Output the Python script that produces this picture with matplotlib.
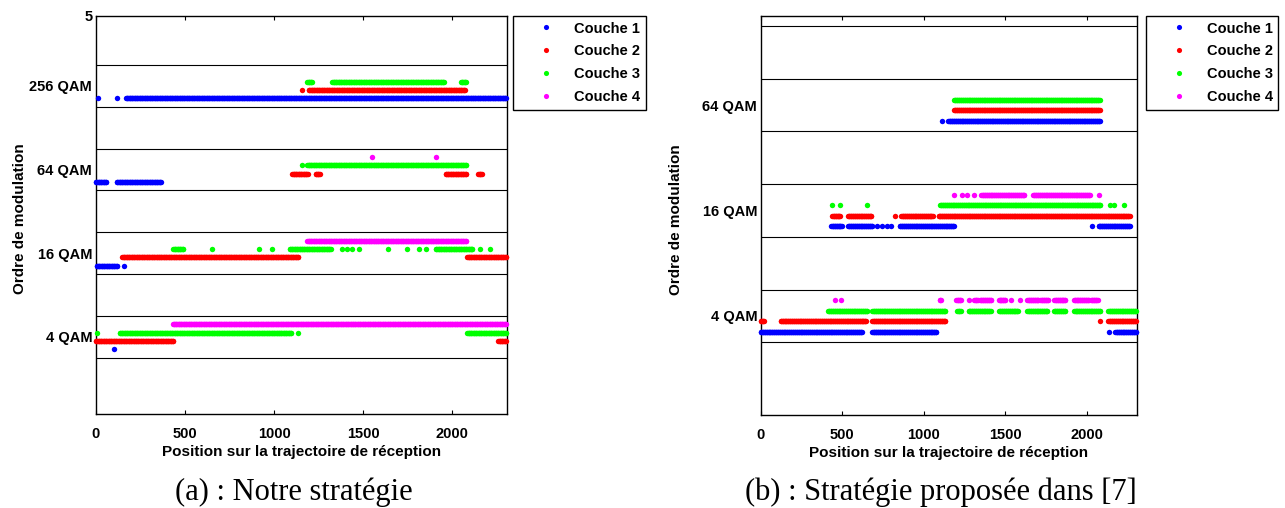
import numpy as np
import matplotlib
matplotlib.use("Agg")
import matplotlib.pyplot as plt

# ---------------- data ----------------
modulation_levels = [1, 2, 3, 4]
modulation_labels = ["4 QAM", "16 QAM", "64 QAM", "256 QAM"]
layer_names = ["Couche 1", "Couche 2", "Couche 3", "Couche 4"]
x_ticks = [0, 500, 1000, 1500, 2000]
position_max = 2305
sample_step = 4

# runs of positions: (start, end, modulation level)
a_couche1 = [(11, 11, 4), (121, 121, 4), (170, 2300, 4),
             (0, 58, 3), (118, 366, 3),
             (5, 118, 2), (157, 157, 2),
             (104, 104, 1)]
a_couche2 = [(1155, 1155, 4), (1195, 2070, 4),
             (1102, 1188, 3), (1233, 1257, 3), (1962, 2076, 3), (2145, 2165, 3),
             (149, 1136, 2), (2083, 2300, 2),
             (0, 435, 1), (2257, 2300, 1)]
a_couche3 = [(1186, 1212, 4), (1326, 1951, 4), (2049, 2076, 4),
             (1155, 1155, 3), (1186, 2076, 3),
             (435, 488, 2), (652, 652, 2), (914, 914, 2), (986, 986, 2),
             (1087, 1319, 2), (1379, 1379, 2), (1407, 1407, 2), (1439, 1439, 2),
             (1478, 1478, 2), (1637, 1637, 2), (1747, 1747, 2), (1814, 1814, 2),
             (1855, 1855, 2), (1907, 2113, 2), (2154, 2154, 2), (2214, 2214, 2),
             (9, 9, 1), (134, 1095, 1), (1132, 1132, 1), (2083, 2300, 1)]
a_couche4 = [(1551, 1551, 3), (1911, 1911, 3),
             (1186, 2076, 2),
             (433, 2300, 1)]

b_couche1 = [(1110, 1110, 3), (1151, 2077, 3),
             (433, 497, 2), (536, 681, 2), (715, 715, 2), (744, 744, 2),
             (773, 773, 2), (798, 798, 2), (853, 1182, 2), (2033, 2033, 2),
             (2071, 2261, 2),
             (0, 620, 1), (685, 1076, 1), (2133, 2133, 1), (2174, 2300, 1)]
b_couche2 = [(1186, 2077, 3),
             (439, 486, 2), (536, 677, 2), (826, 826, 2), (863, 1055, 2),
             (1090, 2261, 2),
             (0, 18, 1), (122, 646, 1), (685, 1131, 1), (2082, 2082, 1),
             (2132, 2300, 1)]
b_couche3 = [(1186, 2077, 3),
             (435, 435, 2), (486, 486, 2), (650, 650, 2), (1100, 2082, 2),
             (2143, 2143, 2), (2168, 2168, 2), (2225, 2225, 2),
             (413, 652, 1), (685, 1131, 1), (1206, 1225, 1), (1274, 1409, 1),
             (1462, 1577, 1), (1635, 1756, 1), (1799, 1867, 1), (1922, 2082, 1),
             (2132, 2300, 1)]
b_couche4 = [(1186, 1186, 2), (1235, 1235, 2), (1264, 1264, 2), (1309, 1309, 2),
             (1353, 1614, 2), (1670, 2017, 2), (2071, 2071, 2),
             (456, 456, 1), (493, 493, 1), (1098, 1106, 1), (1200, 1225, 1),
             (1280, 1280, 1), (1310, 1330, 1), (1345, 1410, 1), (1460, 1500, 1),
             (1537, 1537, 1), (1587, 1587, 1), (1635, 1700, 1), (1715, 1760, 1),
             (1800, 1865, 1), (1920, 2010, 1), (2025, 2065, 1)]

panel_a = [a_couche1, a_couche2, a_couche3, a_couche4]
panel_b = [b_couche1, b_couche2, b_couche3, b_couche4]

# ---------------- style ----------------
layer_colors = ["#0000ff", "#ff0000", "#00ff00", "#ff00ff"]
layer_offsets = [-0.15, -0.05, 0.05, 0.15]
sans = ["Liberation Sans", "Arial", "DejaVu Sans"]
serif = ["Liberation Serif", "Times New Roman", "DejaVu Serif"]
plt.rcParams["font.family"] = sans
plt.rcParams["font.weight"] = "bold"

W, H = 1285, 508
fig = plt.figure(figsize=(W / 100, H / 100), dpi=100)


def expand(runs):
    xs, ys = [], []
    for s, e, lvl in runs:
        pts = np.arange(s, e + 1, sample_step)
        if len(pts) == 0 or pts[-1] != e:
            pts = np.append(pts, e)
        xs.append(pts)
        ys.append(np.full(len(pts), lvl, dtype=float))
    return np.concatenate(xs), np.concatenate(ys)


def draw(ax, panel, ylim, yticks, ylabels, legend_px):
    for lvl in modulation_levels:
        for edge in (lvl - 0.25, lvl + 0.25):
            if ylim[0] < edge < ylim[1]:
                ax.axhline(edge, color="black", lw=0.8, zorder=1)
    handles = []
    for runs, name, col, off in zip(panel, layer_names, layer_colors, layer_offsets):
        xs, ys = expand(runs)
        h, = ax.plot(xs, ys + off, linestyle="none", marker="o", markersize=3.9,
                     markeredgewidth=0, color=col, label=name, zorder=3, clip_on=False)
        handles.append(h)
    ax.set_xlim(0, position_max)
    ax.set_ylim(*ylim)
    ax.set_xticks(x_ticks)
    ax.set_xticklabels([str(t) for t in x_ticks], fontsize=10.5, fontweight="bold")
    ax.set_yticks(yticks)
    ax.set_yticklabels(ylabels, fontsize=10.5, fontweight="bold")
    ax.tick_params(axis="x", direction="in", top=True, length=3, width=0.8, pad=9)
    ax.tick_params(axis="y", length=0, pad=2.5)
    for sp in ax.spines.values():
        sp.set_linewidth(1.0)
        sp.set_color("black")
    ax.set_xlabel("Position sur la trajectoire de réception", fontsize=11,
                  fontweight="bold")
    ax.set_ylabel("Ordre de modulation", fontsize=11, fontweight="bold")
    ax.xaxis.set_label_coords(0.5, -0.077)
    lx, ly = legend_px
    leg = ax.legend(handles=handles, loc="upper left",
                    bbox_to_anchor=(lx / W, 1 - ly / H), bbox_transform=fig.transFigure,
                    borderaxespad=0, borderpad=0.4, handlelength=3.75,
                    handletextpad=0.0, labelspacing=0.6, numpoints=1,
                    frameon=True, fancybox=False, framealpha=1,
                    prop={"family": sans, "weight": "bold", "size": 10.5})
    leg.get_frame().set_edgecolor("black")
    leg.get_frame().set_linewidth(1.0)
    for lh in leg.legend_handles:
        lh.set_markersize(3.7)
    return ax


axA = fig.add_axes([95.7 / W, 1 - 414.3 / H, 411 / W, 398.6 / H])
topA = 4.84
draw(axA, panel_a, (0.073, topA), modulation_levels + [topA],
     modulation_labels + ["5"], (513.3, 15.7))
axA.yaxis.set_label_coords(-0.168, 0.49)

axB = fig.add_axes([760.7 / W, 1 - 415.3 / H, 376 / W, 399.6 / H])
draw(axB, panel_b, (0.057, 3.848), modulation_levels[:3],
     modulation_labels[:3], (1146, 15.7))
axB.yaxis.set_label_coords(-0.207, 0.49)

fig.text(294 / W, 1 - 500 / H, "(a) : Notre stratégie", family=serif,
         fontweight="normal", fontsize=22, ha="center", va="baseline")
fig.text(941 / W, 1 - 500 / H, "(b) : Stratégie proposée dans [7]", family=serif,
         fontweight="normal", fontsize=22, ha="center", va="baseline")

fig.savefig("out.png", dpi=100)
